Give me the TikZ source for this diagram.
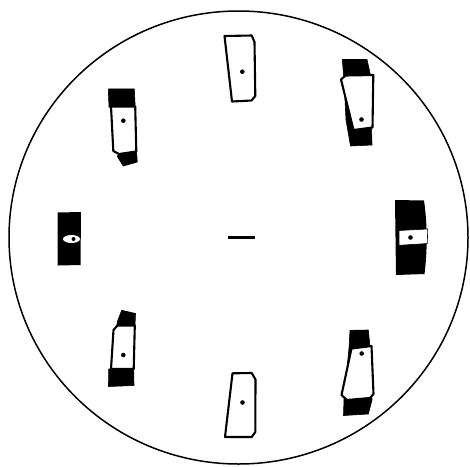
\documentclass[tikz,border=0pt]{standalone}
\begin{document}
\begin{tikzpicture}[x=1pt,y=-1pt,
 blk/.style={fill=black, draw=black, line width=0.6pt, line join=round},
 wht/.style={fill=white, draw=black, line width=2.1pt, line join=round},
 band/.style={fill=white, draw=black, line width=0.6pt},
 dotmark/.style={fill=black}]
\useasboundingbox (0,0) rectangle (470,466);
\fill[white] (0,0) rectangle (470,466);
% outer disc
\draw[line width=1.5pt] (238.5,237.5) ellipse [x radius=229.5, y radius=226.5];
% centre mark
\draw[line width=2.8pt] (228,237.8) -- (255,237.8);
% top
\draw[wht] (224.5,36) -- (251.7,35.5) -- (254.5,42) -- (255.3,96) -- (251.5,100.5) -- (232,101.5) -- cycle;
\fill[dotmark] (242.3,71.7) circle [radius=2.3];
% bottom
\draw[wht] (232.5,373.3) -- (251.7,373) -- (255.5,379.5) -- (255.3,432) -- (251.7,437) -- (225,437) -- cycle;
\fill[dotmark] (242.5,402.5) circle [radius=2.3];
% upper left
\draw[blk] (108.3,89) -- (134.3,88.8) -- (135.2,107) -- (109,107.3) -- cycle;
\draw[blk] (119,153.5) -- (136.5,151) -- (137.3,162) -- (123.3,166) -- (117.3,156.5) -- cycle;
\draw[wht] (111,106.5) -- (135.2,106.5) -- (136.3,151.5) -- (119,154) -- (113.3,151) -- cycle;
\fill[dotmark] (123.3,120.7) circle [radius=2.3];
% left
\fill (57.5,212.5) -- (81,212) -- (80.5,265) -- (57.7,265.5) -- cycle;
\fill[white] (71.5,239) ellipse [x radius=8.5, y radius=4];
\fill[dotmark] (73.5,239) circle [radius=2];
% right
\fill (395,200) -- (424,200.5) .. controls (427.5,225) and (427.5,250) .. (424.5,274) -- (396,275) -- cycle;
\draw[band] (399,230.5) -- (427.7,229) -- (427.3,243.5) -- (399,245.3) -- cycle;
\fill[dotmark] (410.5,237.5) circle [radius=2.3];
% upper right
\draw[blk] (342.3,59.5) -- (367,59.5) -- (370,73) -- (372,145) -- (350.5,146) -- (346,120) -- (344,80) -- cycle;
\draw[wht] (341,79.5) -- (345.5,75.5) -- (373.3,75) -- (372.5,127.5) -- (353.5,130) -- cycle;
\fill[dotmark] (361.5,119.5) circle [radius=2.3];
% lower right
\draw[blk] (350,330.3) -- (368.3,330) -- (370,347) -- (372,400) -- (368.3,414) -- (343.5,415.5) -- (344,399) -- (349,348) -- cycle;
\draw[wht] (351.5,348.5) -- (371.5,346) -- (373.5,394) -- (370,398) -- (347,400) -- (341.5,395) -- cycle;
\fill[dotmark] (361.7,353.5) circle [radius=2.3];
% lower left
\draw[blk] (121.7,310.3) -- (135.5,313.5) -- (135,325.5) -- (116.5,326.5) -- (117.7,320.7) -- cycle;
\draw[blk] (108.7,369) -- (133.7,369) -- (134,385.5) -- (108.5,386.5) -- cycle;
\draw[wht] (113.5,330) -- (117.5,325.5) -- (134.8,325.5) -- (133.7,369) -- (111,369) -- cycle;
\fill[dotmark] (123.3,355) circle [radius=2.3];
\end{tikzpicture}
\end{document}
